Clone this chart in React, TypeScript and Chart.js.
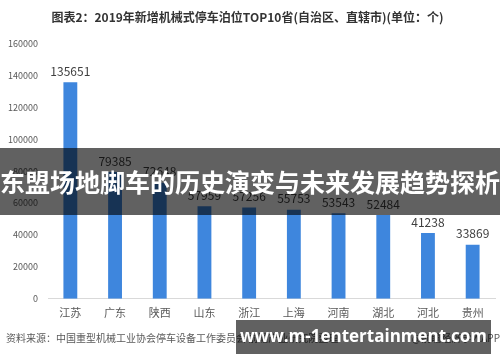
import React, { useEffect, useRef } from "react";
import { Chart, registerables } from "chart.js";

Chart.register(...registerables);

const categories = ["江苏", "广东", "陕西", "山东", "浙江", "上海", "河南", "湖北", "河北", "贵州"];
const values = [135651, 79385, 72648, 57959, 57256, 55753, 53543, 52484, 41238, 33869];
const yTicks = [0, 20000, 40000, 60000, 80000, 100000, 120000, 140000, 160000];
const titleText = "图表2：2019年新增机械式停车泊位TOP10省(自治区、直辖市)(单位：个)";
const sourceText = "资料来源：中国重型机械工业协会停车设备工作委员会 前瞻产业研究院整理";
const creditText = "@前瞻经济学人APP";
const bannerText = "东盟场地脚车的历史演变与未来发展趋势探析";
const siteText = "www.m-1entertainment.com";

const FONT = "'Microsoft YaHei', 'Noto Sans CJK SC', 'Noto Sans', sans-serif";

const labelPlugin = {
  id: "barLabels",
  afterDatasetsDraw(chart: any) {
    const ctx = chart.ctx;
    const meta = chart.getDatasetMeta(0);
    ctx.save();
    ctx.font = `12px ${FONT}`;
    ctx.fillStyle = "#404040";
    ctx.textAlign = "center";
    ctx.textBaseline = "bottom";
    meta.data.forEach((bar: any, i: number) => {
      ctx.fillText(String(values[i]), bar.x, bar.y - 5);
    });
    ctx.restore();
  },
  afterDraw(chart: any) {
    const ctx = chart.ctx;
    ctx.save();
    ctx.font = `10px ${FONT}`;
    ctx.fillStyle = "#595959";
    ctx.textBaseline = "middle";
    ctx.textAlign = "left";
    ctx.fillText(sourceText, 6, 338);
    ctx.textAlign = "right";
    ctx.fillText(creditText, 500, 338);
    ctx.restore();
  },
};

export default function App() {
  const ref = useRef<HTMLCanvasElement>(null);
  useEffect(() => {
    document.body.style.margin = "0";
    const chart = new Chart(ref.current!, {
      type: "bar",
      data: {
        labels: categories,
        datasets: [
          {
            data: values,
            backgroundColor: "#3E86DD",
            barPercentage: 0.31,
            categoryPercentage: 1,
          },
        ],
      },
      options: {
        animation: false,
        responsive: false,
        maintainAspectRatio: false,
        layout: { padding: { left: 0, right: 5, top: 0, bottom: 36 } },
        plugins: {
          legend: { display: false },
          tooltip: { enabled: false },
          title: {
            display: true,
            text: titleText,
            color: "#333333",
            font: { family: FONT, size: 12, weight: "bold" },
            padding: { top: 10, bottom: 19 },
          },
        },
        scales: {
          x: {
            grid: { display: false, drawTicks: false },
            border: { display: true, color: "#d9d9d9" },
            ticks: { color: "#595959", font: { family: FONT, size: 11 }, padding: 7 },
          },
          y: {
            min: 0,
            max: 160000,
            afterBuildTicks: (axis: any) => {
              axis.ticks = yTicks.map((v) => ({ value: v }));
            },
            afterFit: (axis: any) => {
              axis.width = 48;
            },
            grid: { display: false, drawTicks: false },
            border: { display: false },
            ticks: {
              color: "#595959",
              font: { family: FONT, size: 9 },
              padding: 10,
              callback: (v: any) => String(v),
            },
          },
        },
      },
      plugins: [labelPlugin],
    } as any);
    return () => chart.destroy();
  }, []);

  return (
    <div style={{ position: "relative", width: 500, height: 362, background: "#fff", overflow: "hidden" }}>
      <canvas ref={ref} width={500} height={362} style={{ display: "block" }} />
      <div
        style={{
          position: "absolute",
          left: 0,
          top: 148,
          width: 500,
          height: 67,
          background: "rgba(0,0,0,0.62)",
          color: "#fff",
          fontFamily: FONT,
          fontWeight: "bold",
          fontSize: 25,
          lineHeight: "67px",
          whiteSpace: "nowrap",
          textAlign: "center",
        }}
      >
        {bannerText}
      </div>
      <div
        style={{
          position: "absolute",
          left: 236,
          top: 320,
          width: 255,
          height: 34,
          background: "rgba(0,0,0,0.62)",
          color: "#fff",
          fontFamily: "'Open Sans', sans-serif",
          fontWeight: "bold",
          fontSize: 17,
          lineHeight: "32px",
          whiteSpace: "nowrap",
          textAlign: "center",
        }}
      >
        {siteText}
      </div>
    </div>
  );
}
